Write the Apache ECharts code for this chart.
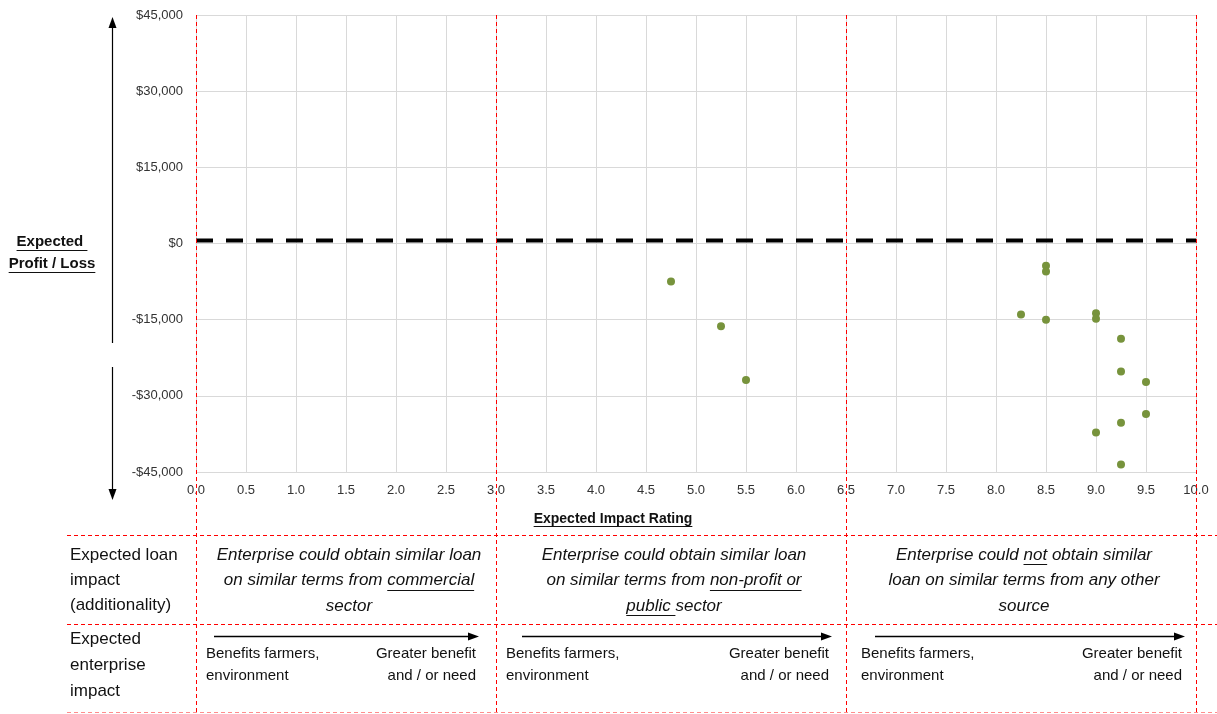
<!DOCTYPE html>
<html><head><meta charset="utf-8">
<script src="https://cdn.jsdelivr.net/npm/echarts@6/dist/echarts.min.js"></script>
<style>html,body{margin:0;padding:0;background:#fff}#c{width:1217px;height:714px}</style>
</head><body><div id="c"></div>
<script>
// ---- data ----
const impactRating = [4.75, 5.25, 5.5, 8.25, 8.5, 8.5, 8.5, 9.0, 9.0, 9.0, 9.25, 9.25, 9.25, 9.25, 9.5, 9.5];
const profitLoss   = [-7500, -16300, -26900, -14000, -4400, -5500, -15000, -13750, -14800, -37200, -18750, -25200, -35300, -43500, -27300, -33600];
const zeroLine = [[0, 600], [10, 600]];
const dividers = [0, 3, 6.5, 10];
const xAxisTitle = 'Expected Impact Rating';
const yAxisTitle = ['Expected ', 'Profit / Loss'];
const rowTitles = [['Expected loan', 'impact', '(additionality)'], ['Expected', 'enterprise', 'impact']];
// segments: [text, underlined]
const additionality = [
  [[['Enterprise could obtain similar loan', 0]], [['on similar terms from ', 0], ['commercial', 1]], [['sector', 0]]],
  [[['Enterprise could obtain similar loan', 0]], [['on similar terms from ', 0], ['non-profit or', 1]], [['public ', 1], ['sector', 0]]],
  [[['Enterprise could ', 0], ['not', 1], [' obtain similar', 0]], [['loan on similar terms from any other', 0]], [['source', 0]]]
];
const impactLeft = ['Benefits farmers,', 'environment'];
const impactRight = ['Greater benefit', 'and / or need'];

const FONT = '"Liberation Sans", Arial, sans-serif';
const chart = echarts.init(document.getElementById('c'), null, {renderer: 'canvas'});
const money = v => (v < 0 ? '-$' : '$') + Math.abs(v).toLocaleString('en-US');

chart.setOption({
  animation: false,
  grid: {left: 196, right: 21, top: 15, bottom: 242},
  xAxis: {
    type: 'value', min: 0, max: 10, interval: 0.5,
    axisLine: {lineStyle: {color: '#d9d9d9'}}, axisTick: {show: false},
    splitLine: {lineStyle: {color: '#d9d9d9'}},
    axisLabel: {formatter: v => v.toFixed(1), fontSize: 13, fontFamily: FONT, color: '#333', margin: 12}
  },
  yAxis: {
    type: 'value', min: -45000, max: 45000, interval: 15000,
    axisLine: {show: false}, axisTick: {show: false},
    splitLine: {lineStyle: {color: '#d9d9d9'}},
    axisLabel: {formatter: money, fontSize: 13, fontFamily: FONT, color: '#333', margin: 13}
  },
  series: [
    {type: 'line', data: zeroLine, symbol: 'none', silent: true, z: 3,
     lineStyle: {color: '#000', width: 4, type: [17, 13]}},
    {type: 'scatter', data: impactRating.map((x, i) => [x, profitLoss[i]]), symbolSize: 8, z: 4,
     itemStyle: {color: '#77933c', opacity: 1}}
  ]
});

// ---- overlay graphics ----
const cv = document.createElement('canvas').getContext('2d');
function tw(t, font) { cv.font = font; return cv.measureText(t).width; }
const G = [];
function text(t, x, y, font, align, fill) {
  G.push({type: 'text', silent: true, z: 10, style: {text: t, x, y, font, align: align || 'left', verticalAlign: 'middle', fill: fill || '#111'}});
}
function line(x1, y1, x2, y2, stroke, width, dash) {
  G.push({type: 'line', silent: true, z: 9, shape: {x1, y1, x2, y2}, style: {stroke, lineWidth: width || 1, lineDash: dash || null}});
}
function poly(points, fill) {
  G.push({type: 'polygon', silent: true, z: 9, shape: {points}, style: {fill}});
}
function segLine(segs, cx, y, size, style, weight) {
  const font = (style || 'normal') + ' ' + (weight || 'normal') + ' ' + size + 'px ' + FONT;
  const total = segs.reduce((s, g) => s + tw(g[0], font), 0);
  let x = cx - total / 2;
  segs.forEach(g => {
    const w = tw(g[0], font);
    text(g[0], x, y, font, 'left');
    if (g[1]) line(x, Math.round(y + size * 0.53) + 0.5, x + w, Math.round(y + size * 0.53) + 0.5, '#111', 1);
    x += w;
  });
}

const dx = dividers.map(v => chart.convertToPixel({xAxisIndex: 0}, v));
const topY = chart.convertToPixel({yAxisIndex: 0}, 45000);
const midX = chart.convertToPixel({xAxisIndex: 0}, 5);

// red dividers
dx.forEach(x => line(Math.round(x) + 0.5, topY, Math.round(x) + 0.5, 714, '#ff0000', 1, [4, 3]));
// table horizontal lines
[535.5, 624.5].forEach(y => line(67, y, 1217, y, '#ff0000', 1, [4, 3]));
line(67, 712.5, 1217, 712.5, 'rgba(255,0,0,0.45)', 1, [4, 3]);

// y axis arrow
line(112.5, 27, 112.5, 343, '#000', 1.2);
poly([[112.5, 17], [108.5, 28], [116.5, 28]], '#000');
line(112.5, 367, 112.5, 490, '#000', 1.2);
poly([[112.5, 500], [108.5, 489], [116.5, 489]], '#000');

// y axis title
segLine([[yAxisTitle[0], 1]], 52, 242, 15, 'normal', 'bold');
segLine([[yAxisTitle[1], 1]], 52, 264, 15, 'normal', 'bold');
// x axis title
segLine([[xAxisTitle, 1]], midX - 83, 519, 14, 'normal', 'bold');

// row titles
const rowFont = '17px ' + FONT;
rowTitles[0].forEach((t, i) => text(t, 70, 555 + i * 25, rowFont));
rowTitles[1].forEach((t, i) => text(t, 70, 639 + i * 26, rowFont));

// columns
const arrowStart = [18, 26, 29], arrowEnd = [17, 14, 11];
const txtLeft = [10, 10, 15], txtRight = [20, 17, 14];
for (let c = 0; c < 3; c++) {
  const L = dx[c], R = dx[c + 1], cx = (L + R) / 2 + 3;
  additionality[c].forEach((segs, i) => segLine(segs, cx, 555 + i * 25.5, 17, 'italic'));
  const ax1 = L + arrowStart[c], ax2 = R - arrowEnd[c];
  line(ax1, 636.5, ax2 - 8, 636.5, '#000', 1.5);
  poly([[ax2, 636.5], [ax2 - 11, 632.5], [ax2 - 11, 640.5]], '#000');
  const f = '15px ' + FONT;
  impactLeft.forEach((t, i) => text(t, L + txtLeft[c], 654 + i * 22, f, 'left'));
  impactRight.forEach((t, i) => text(t, R - txtRight[c], 654 + i * 22, f, 'right'));
}

chart.setOption({graphic: {elements: G}});
</script></body></html>
